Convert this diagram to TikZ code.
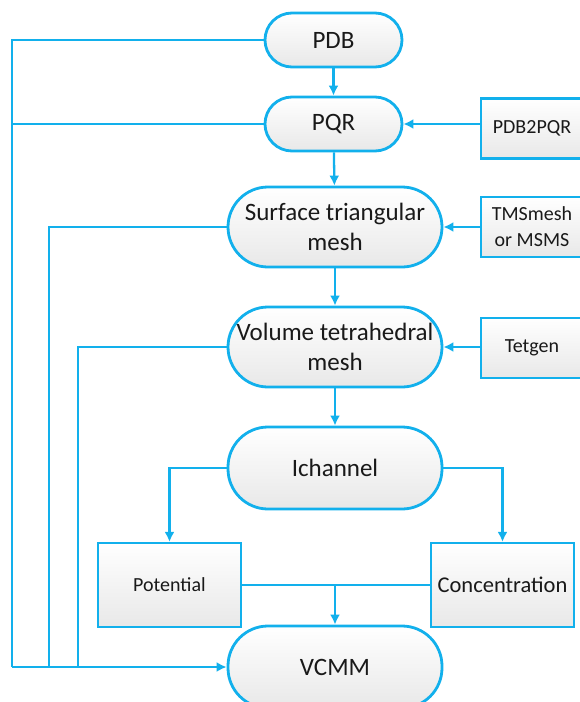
\documentclass[tikz,border=0pt]{standalone}
\usepackage{fontspec}
\setmainfont{Carlito}
\usetikzlibrary{arrows.meta}
\definecolor{flowblue}{RGB}{18,176,236}

\begin{document}
\begin{tikzpicture}[x=1pt,y=-1pt,
    pill/.style={draw=flowblue,line width=2.8pt,rounded corners=40pt,top color=white,bottom color=black!9,
      minimum width=214pt,minimum height=80pt,inner sep=0pt,align=center,text=black!90,
      font=\fontsize{25}{30}\selectfont},
    smallpill/.style={pill,rounded corners=27pt,minimum width=137pt,minimum height=54pt},
    tool/.style={draw=flowblue,line width=2.2pt,top color=white,bottom color=black!9,
      minimum width=102pt,minimum height=60pt,inner sep=0pt,align=center,text=black!90,
      font=\fontsize{20}{26}\selectfont},
    result/.style={tool,minimum width=143pt,minimum height=84pt},
    wire/.style={draw=flowblue,line width=2.3pt},
    flow/.style={wire,-{Latex[length=10pt,width=10pt]}}]
  \useasboundingbox (0,0) rectangle (580,702);
  \clip (0,0) rectangle (580,702);
  \node[smallpill] (PDB) at (333.5,40) {PDB};
  \node[smallpill] (PQR) at (333.5,124) {PQR};
  \node[pill] (Surf) at (335,227) {Surface triangular\\mesh};
  \node[pill] (Vol) at (335,347) {Volume tetrahedral\\mesh};
  \node[pill,minimum height=82pt] (Ich) at (335,468) {Ichannel};
  \node[pill,minimum height=82pt] (VCMM) at (335,667) {VCMM};
  \node[tool] (P2P) at (532,128.5) {PDB2PQR};
  \node[tool] (TMS) at (532,227) {TMSmesh\\or MSMS};
  \node[tool] (Tet) at (532,348) {Tetgen};
  \node[result] (Pot) at (169.5,585) {Potential};
  \node[result,font=\fontsize{22.5}{27}\selectfont] (Conc) at (502.5,585) {Concentration};
  \coordinate (busA) at (12,667);
  \coordinate (busB) at (49,667);
  \coordinate (busC) at (78,667);
  \draw[flow] (PDB) -- (PQR);
  \draw[flow] (PQR) -- (Surf);
  \draw[flow] (Surf) -- (Vol);
  \draw[flow] (Vol) -- (Ich);
  \draw[flow] (P2P.west |- PQR.east) -- (PQR.east);
  \draw[flow] (TMS.west) -- (Surf.east);
  \draw[flow] (Tet.west |- Vol.east) -- (Vol.east);
  \draw[flow] (Ich.west) -| (Pot.north);
  \draw[flow] (Ich.east) -| (Conc.north);
  \draw[wire] (Pot.east) -- (Conc.west);
  \draw[flow] (Pot.east -| VCMM.north) -- (VCMM.north);
  \draw[wire] (PDB.west) -| (busA);
  \draw[wire] (PQR.west) -- (PQR.west -| busA);
  \draw[wire] (Surf.west) -| (busB);
  \draw[wire] (Vol.west) -| (busC);
  \draw[flow] (busA) -- (VCMM.west);
\end{tikzpicture}
\end{document}
